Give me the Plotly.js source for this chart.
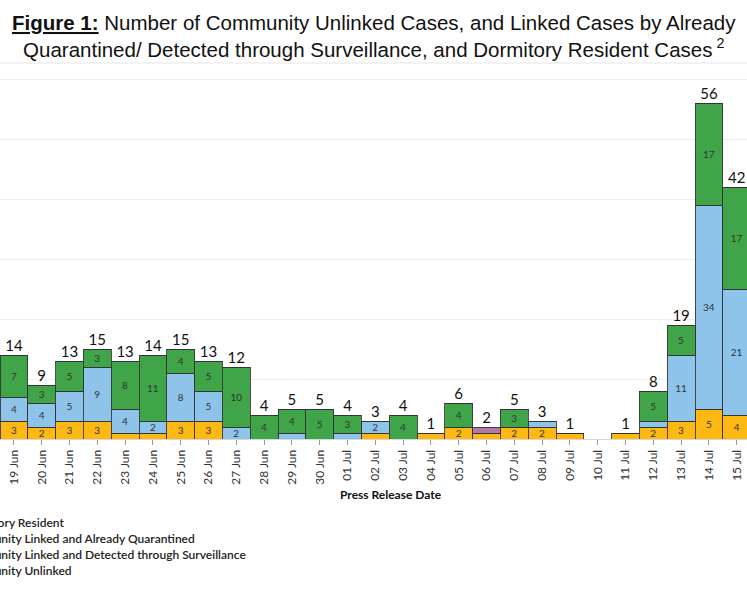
<!DOCTYPE html>
<html>
<head>
<meta charset="utf-8">
<script src="https://cdn.plot.ly/plotly-3.0.1.min.js"></script>
<style>
  html, body { margin: 0; padding: 0; background: #fff; }
  #graph { width: 747px; height: 598px; }
</style>
</head>
<body>
<div id="graph"></div>
<script>
// press release dates shown in the figure
var dates = ['19 Jun', '20 Jun', '21 Jun', '22 Jun', '23 Jun', '24 Jun', '25 Jun', '26 Jun', '27 Jun',
    '28 Jun', '29 Jun', '30 Jun', '01 Jul', '02 Jul', '03 Jul', '04 Jul', '05 Jul', '06 Jul', '07 Jul',
    '08 Jul', '09 Jul', '10 Jul', '11 Jul', '12 Jul', '13 Jul', '14 Jul', '15 Jul'];

// case counts per category
var unlinked     = [3, 2, 3, 3, 1, 1, 3, 3, 0, 0, 0, 0, 0, 1, 0, 1, 2, 1, 2, 2, 1, 0, 1, 2, 3, 5, 4];
var quarantined  = [4, 4, 5, 9, 4, 2, 8, 5, 2, 0, 1, 0, 1, 2, 0, 0, 0, 0, 0, 1, 0, 0, 0, 1, 11, 34, 21];
var surveillance = [7, 3, 5, 3, 8, 11, 4, 5, 10, 4, 4, 5, 3, 0, 4, 0, 4, 0, 3, 0, 0, 0, 0, 5, 5, 17, 17];
var dormitory    = [0, 0, 0, 0, 0, 0, 0, 0, 0, 0, 0, 0, 0, 0, 0, 0, 0, 1, 0, 0, 0, 0, 0, 0, 0, 0, 0];

var seriesNames = [
    'Community Unlinked',
    'Community Linked and Already Quarantined',
    'Community Linked and Detected through Surveillance',
    'Dormitory Resident'
];
var seriesColors = ['#FDB813', '#8EC3EA', '#3FA548', '#B27AA6'];

var tabFont = 'Lato, "Open Sans", sans-serif';

// segments of 1 are too thin to carry a label
function segLabels(vals) {
    return vals.map(function(v) { return v >= 2 ? String(v) : ''; });
}

function barTrace(vals, i) {
    return {
        type: 'bar',
        name: seriesNames[i],
        x: dates,
        y: vals,
        text: segLabels(vals),
        textposition: 'inside',
        insidetextanchor: 'middle',
        textangle: 0,
        constraintext: 'none',
        textfont: { family: tabFont, size: 10, color: '#333' },
        marker: {
            color: seriesColors[i],
            line: { color: 'rgba(50,50,50,0.85)', width: 1 }
        },
        hoverinfo: 'skip'
    };
}

var totals = dates.map(function(d, i) {
    return unlinked[i] + quarantined[i] + surveillance[i] + dormitory[i];
});

var totalTrace = {
    type: 'scatter',
    mode: 'text',
    x: dates,
    y: totals,
    text: totals.map(function(t) { return t > 0 ? String(t) : ''; }),
    textposition: 'top center',
    textfont: { family: tabFont, size: 15, color: '#111' },
    cliponaxis: false,
    showlegend: false,
    hoverinfo: 'skip'
};

var data = [
    barTrace(unlinked, 0),
    barTrace(quarantined, 1),
    barTrace(surveillance, 2),
    barTrace(dormitory, 3),
    totalTrace
];

// pixel helpers for the plot box (top 70, bottom 439)
function py(pix) { return (439 - pix) / 369; }

// legend, cut off at the left edge like in the source image
var legendRows = [seriesNames[3], seriesNames[1], seriesNames[2], seriesNames[0]];
var annotations = legendRows.map(function(name, i) {
    return {
        xref: 'paper', yref: 'paper',
        x: -42.5 / 747, xanchor: 'left',
        y: py(522 + 16 * i), yanchor: 'middle',
        text: name,
        showarrow: false,
        font: { family: tabFont, size: 12, color: '#222', weight: 600 }
    };
});
annotations.push({
    xref: 'paper', yref: 'paper',
    x: 391 / 747, xanchor: 'center',
    y: py(494), yanchor: 'middle',
    text: 'Press Release Date',
    showarrow: false,
    font: { family: tabFont, size: 12, color: '#111', weight: 700 }
});
annotations.push({
    xref: 'paper', yref: 'paper',
    x: 374 / 747, xanchor: 'center',
    y: py(9), yanchor: 'top',
    align: 'center',
    text: '<b><u>Figure 1:</u></b> Number of Community Unlinked Cases, and Linked Cases by Already<br>' +
          'Quarantined/ Detected through Surveillance, and Dormitory Resident Cases<sup> 2</sup>',
    showarrow: false,
    font: { family: '"Liberation Sans", Arial, sans-serif', size: 20.5, color: '#111' }
});

var layout = {
    width: 747,
    height: 598,
    margin: { l: 0, r: 0, t: 70, b: 159, autoexpand: false },
    paper_bgcolor: '#fff',
    plot_bgcolor: '#fff',
    barmode: 'stack',
    bargap: 0,
    showlegend: false,
    xaxis: {
        type: 'category',
        range: [-0.5, 26.37],
        tickangle: -90,
        ticks: 'outside',
        ticklen: 5,
        tickcolor: '#999',
        tickfont: { family: tabFont, size: 12, color: '#333' },
        showgrid: false,
        showline: false,
        fixedrange: true
    },
    yaxis: {
        range: [0, 61.5],
        dtick: 10,
        showticklabels: false,
        showgrid: true,
        gridcolor: '#eeeeee',
        zeroline: true,
        zerolinecolor: '#d8d8d8',
        fixedrange: true
    },
    shapes: [{
        type: 'line', xref: 'paper', yref: 'paper',
        x0: 0, x1: 1, y0: py(63), y1: py(63),
        line: { color: '#e6e6e6', width: 1 }
    }],
    uniformtext: { mode: 'show', minsize: 10 },
    annotations: annotations
};

Plotly.newPlot('graph', data, layout, { staticPlot: true });
</script>
</body>
</html>
